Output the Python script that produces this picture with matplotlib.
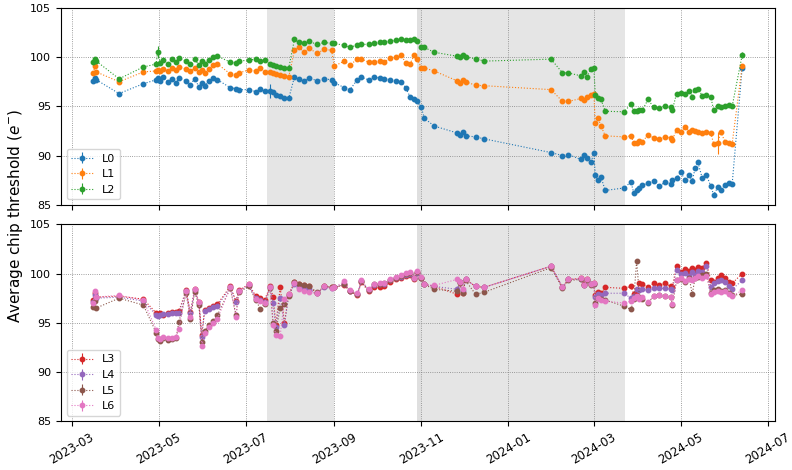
import numpy as np
import pandas as pd
import matplotlib
matplotlib.use("Agg")
import matplotlib.pyplot as plt
import matplotlib.dates as mdates

# measurement dates
dates = ["2023-03-16", "2023-03-17", "2023-03-18", "2023-04-03", "2023-04-20", "2023-04-29",
         "2023-04-30", "2023-05-02", "2023-05-04", "2023-05-07", "2023-05-10", "2023-05-13",
         "2023-05-15", "2023-05-20", "2023-05-23", "2023-05-26", "2023-05-29", "2023-05-31",
         "2023-06-02", "2023-06-05", "2023-06-08", "2023-06-11", "2023-06-20", "2023-06-24",
         "2023-06-26", "2023-07-03", "2023-07-08", "2023-07-11", "2023-07-14", "2023-07-18",
         "2023-07-20", "2023-07-22", "2023-07-25", "2023-07-28", "2023-07-31", "2023-08-04",
         "2023-08-07", "2023-08-11", "2023-08-14", "2023-08-20", "2023-08-25", "2023-08-30",
         "2023-09-01", "2023-09-08", "2023-09-12", "2023-09-17", "2023-09-20", "2023-09-25",
         "2023-09-29", "2023-10-03", "2023-10-06", "2023-10-10", "2023-10-14", "2023-10-18",
         "2023-10-21", "2023-10-24", "2023-10-27", "2023-10-29", "2023-11-01", "2023-11-03",
         "2023-11-10", "2023-11-26", "2023-11-28", "2023-11-30", "2023-12-02", "2023-12-09",
         "2023-12-15", "2024-01-31", "2024-02-08", "2024-02-12", "2024-02-21", "2024-02-23",
         "2024-02-25", "2024-02-28", "2024-03-01", "2024-03-02", "2024-03-04", "2024-03-06",
         "2024-03-09", "2024-03-22", "2024-03-27", "2024-03-29", "2024-03-31", "2024-04-02",
         "2024-04-04", "2024-04-08", "2024-04-12", "2024-04-16", "2024-04-20", "2024-04-24",
         "2024-04-25", "2024-04-28", "2024-05-01", "2024-05-04", "2024-05-07", "2024-05-09",
         "2024-05-11", "2024-05-13", "2024-05-16", "2024-05-19", "2024-05-22", "2024-05-24",
         "2024-05-27", "2024-05-29", "2024-06-01", "2024-06-04", "2024-06-06", "2024-06-13"]

L0 = [97.6, 97.9, 97.7, 96.3, 97.3, 97.7, 97.9, 97.6, 98.0, 97.5, 97.8, 97.4,
      97.9, 97.6, 97.2, 97.8, 97.0, 97.4, 97.1, 97.6, 97.9, 97.7, 96.9, 96.8,
      96.7, 96.7, 96.5, 96.8, 96.6, 96.6, 96.5, 96.2, 96.1, 95.9, 95.8, 98.0,
      97.8, 97.6, 97.9, 97.6, 97.8, 97.7, 97.4, 96.9, 96.7, 97.7, 97.95, 97.7,
      97.95, 97.9, 97.8, 97.7, 97.6, 97.5, 96.9, 96.0, 95.7, 95.5, 94.9, 93.8,
      93.0, 92.3, 92.1, 92.4, 92.0, 91.9, 91.7, 90.3, 90.0, 90.1, 89.6, 90.1,
      89.8, 89.3, 90.3, 88.0, 87.5, 87.8, 86.45, 86.7, 87.3, 86.2, 86.5, 86.7,
      87.0, 87.2, 87.4, 86.9, 87.3, 87.1, 87.5, 87.7, 88.3, 87.5, 88.0, 87.4,
      88.7, 89.3, 87.7, 88.0, 86.9, 86.0, 86.8, 86.5, 87.0, 87.2, 87.1, 98.9]
L1 = [98.4, 99.1, 98.5, 97.5, 98.5, 98.6, 98.7, 98.6, 98.8, 98.6, 98.9, 98.7,
      99.0, 98.8, 98.6, 98.9, 98.5, 98.7, 98.4, 98.8, 99.2, 99.3, 98.3, 98.2,
      98.4, 98.7, 98.6, 98.9, 98.5, 98.5, 98.4, 98.3, 98.2, 98.1, 98.0, 100.7,
      101.0, 100.5, 100.9, 100.4, 100.8, 100.7, 99.1, 99.6, 99.2, 99.8, 99.8, 99.5,
      99.5, 99.6, 99.5, 99.9, 100.0, 100.2, 99.4, 99.3, 100.2, 99.8, 98.95, 98.9,
      98.6, 97.6, 97.4, 97.7, 97.5, 97.15, 97.1, 96.7, 95.5, 95.5, 95.8, 95.6,
      96.0, 96.2, 96.3, 93.3, 93.8, 93.0, 92.0, 91.9, 92.0, 91.3, 91.3, 91.5,
      91.4, 92.1, 91.8, 91.7, 91.9, 91.8, 91.6, 92.6, 92.4, 92.9, 92.4, 92.6,
      92.5, 92.4, 92.3, 92.4, 92.3, 91.2, 91.3, 92.4, 91.4, 91.3, 91.2, 99.1]
L2 = [99.5, 99.8, 99.6, 97.8, 99.0, 99.3, 100.5, 99.4, 99.7, 99.3, 99.8, 99.5,
      99.9, 99.6, 99.3, 99.8, 99.2, 99.6, 99.3, 99.7, 100.0, 100.1, 99.5, 99.4,
      99.6, 99.7, 99.8, 99.6, 99.7, 99.3, 99.2, 99.1, 99.0, 98.9, 98.9, 101.8,
      101.5, 101.4, 101.6, 101.3, 101.5, 101.4, 101.4, 101.2, 101.0, 101.25, 101.3, 101.3,
      101.4, 101.5, 101.5, 101.6, 101.7, 101.8, 101.7, 101.7, 101.8, 101.6, 101.0, 101.0,
      100.5, 100.1, 100.0, 100.2, 100.0, 99.85, 99.6, 99.8, 98.4, 98.4, 98.1, 98.5,
      98.0, 98.8, 98.9, 96.2, 95.8, 95.7, 94.5, 94.45, 95.2, 94.5, 94.5, 94.6,
      94.6, 95.7, 94.9, 94.8, 95.0, 94.9, 94.6, 96.3, 96.4, 96.3, 96.6, 96.0,
      96.7, 96.8, 96.1, 96.2, 96.0, 94.6, 95.0, 94.9, 95.0, 95.1, 95.0, 100.2]
L3 = [97.3, 98.0, 97.6, 97.7, 97.4, 96.0, 95.9, 96.0, 95.8, 96.0, 96.1, 96.1,
      96.2, 98.3, 96.1, 98.4, 97.1, 93.8, 96.3, 96.5, 96.7, 96.9, 98.7, 97.2,
      98.3, 98.9, 97.7, 97.5, 97.3, 98.7, 97.6, 94.8, 98.6, 95.0, 97.9, 99.1,
      98.9, 98.8, 98.7, 98.0, 98.7, 98.6, 98.6, 98.8, 98.2, 97.8, 99.1, 98.2,
      98.6, 98.6, 98.7, 99.1, 99.4, 99.6, 99.8, 99.9, 99.4, 100.1, 99.5, 98.9,
      98.7, 97.9, 99.1, 98.0, 99.4, 98.7, 98.6, 100.75, 98.6, 99.4, 99.5, 98.9,
      99.4, 98.9, 99.0, 97.8, 98.1, 98.0, 98.6, 98.5, 98.7, 97.9, 98.2, 99.0,
      98.9, 98.6, 99.0, 98.8, 99.0, 98.7, 98.6, 100.8, 100.2, 100.5, 100.3, 100.6,
      100.4, 100.7, 100.6, 101.1, 99.3, 99.1, 99.5, 99.9, 99.6, 99.1, 99.0, 100.0]
L4 = [97.1, 97.8, 97.5, 97.6, 97.2, 95.8, 95.7, 95.8, 95.9, 95.9, 96.0, 96.0,
      96.0, 98.2, 96.0, 98.3, 97.0, 93.6, 96.2, 96.4, 96.6, 96.7, 98.6, 97.1,
      98.2, 98.8, 97.5, 97.3, 97.1, 98.6, 97.0, 94.6, 97.5, 94.8, 97.8, 98.9,
      98.6, 98.5, 98.4, 98.0, 98.6, 98.5, 98.6, 98.9, 98.2, 97.9, 99.2, 98.3,
      98.8, 98.9, 98.9, 99.3, 99.5, 99.7, 99.9, 100.0, 99.5, 100.1, 99.6, 98.9,
      98.7, 98.4, 99.1, 98.2, 99.4, 98.7, 98.6, 100.75, 98.6, 99.4, 99.4, 98.8,
      99.3, 98.9, 98.9, 97.6, 97.9, 97.8, 98.0, 98.0, 97.5, 97.7, 98.4, 98.3,
      98.4, 98.3, 98.5, 98.5, 98.5, 98.4, 98.3, 100.4, 100.0, 100.1, 99.8, 100.2,
      99.9, 100.3, 100.2, 100.8, 98.6, 99.0, 99.2, 99.3, 99.1, 98.7, 98.4, 99.3]
L5 = [96.6, 97.2, 96.5, 97.5, 96.8, 94.0, 93.3, 93.1, 93.4, 93.2, 93.3, 93.5,
      95.1, 98.0, 95.4, 98.1, 96.8, 93.0, 94.2, 94.8, 95.2, 95.8, 98.5, 95.8,
      98.1, 98.7, 97.3, 96.4, 96.9, 98.5, 95.0, 94.2, 96.5, 96.9, 97.7, 99.1,
      98.9, 98.8, 98.7, 98.1, 98.7, 98.6, 98.6, 98.9, 98.2, 97.9, 99.2, 98.3,
      98.9, 98.9, 99.0, 99.3, 99.6, 99.8, 100.0, 100.1, 99.5, 100.2, 99.6, 98.9,
      98.4, 98.2, 99.0, 98.0, 99.3, 97.9, 98.1, 100.6, 98.5, 99.3, 99.4, 98.8,
      99.3, 98.8, 98.9, 97.0, 97.5, 97.4, 97.3, 96.7, 96.35, 97.4, 101.3, 97.6,
      97.4, 97.0, 97.7, 97.8, 97.7, 97.6, 96.8, 99.3, 99.4, 99.1, 99.5, 97.9,
      99.6, 99.7, 99.9, 100.0, 98.0, 98.3, 98.4, 98.2, 98.3, 98.0, 97.8, 97.9]
L6 = [97.0, 98.2, 97.6, 97.8, 97.3, 94.3, 93.5, 93.3, 93.6, 93.4, 93.5, 93.6,
      94.4, 98.2, 95.6, 98.4, 97.1, 92.6, 94.0, 94.6, 95.0, 95.4, 98.6, 95.6,
      98.2, 98.9, 97.4, 97.2, 97.0, 98.6, 94.8, 93.8, 93.7, 97.4, 97.9, 99.0,
      98.4, 98.2, 98.1, 98.0, 98.7, 98.5, 98.6, 99.2, 98.3, 98.0, 99.3, 98.4,
      98.9, 99.0, 99.0, 99.4, 99.7, 99.9, 100.1, 100.2, 99.6, 100.3, 99.7, 98.9,
      98.8, 99.4, 99.1, 98.4, 99.4, 98.7, 98.6, 100.75, 98.6, 99.4, 99.5, 98.8,
      99.4, 98.9, 99.0, 96.8, 97.5, 97.3, 97.2, 97.0, 97.2, 97.5, 97.7, 97.4,
      97.6, 97.1, 97.7, 97.8, 97.7, 97.6, 96.9, 99.3, 99.5, 99.2, 99.4, 99.3,
      99.5, 99.8, 99.5, 99.8, 97.9, 98.1, 98.2, 98.1, 98.2, 97.9, 97.7, 98.3]

# a few points with large uncertainty (index, series, error)
big_errors = [(6, "L2", 0.6), (29, "L0", 0.7), (102, "L1", 1.1), (107, "L2", 0.3)]
base_err = 0.12

# (start, end, alpha)
shaded = [("2023-07-16", "2023-09-01", 0.2), ("2023-10-29", "2023-11-01", 0.25),
          ("2023-11-01", "2024-03-23", 0.2)]

x = pd.to_datetime(dates)
series = {"L0": L0, "L1": L1, "L2": L2, "L3": L3, "L4": L4, "L5": L5, "L6": L6}
errs = {k: np.full(len(dates), base_err) for k in series}
for i, k, e in big_errors:
    errs[k][i] = e

fig, (ax1, ax2) = plt.subplots(2, 1, figsize=(7.92, 4.70), dpi=100, sharex=True)
fig.subplots_adjust(left=0.077, right=0.978, top=0.983, bottom=0.104, hspace=0.1)

panels = [(ax1, ["L0", "L1", "L2"], 0), (ax2, ["L3", "L4", "L5", "L6"], 3)]
for ax, names, c0 in panels:
    for a, b, al in shaded:
        ax.axvspan(pd.Timestamp(a), pd.Timestamp(b), color="gray", alpha=al, lw=0)
    for j, name in enumerate(names):
        ax.errorbar(x, series[name], yerr=errs[name], fmt="o:", ms=3.2, lw=0.8,
                    elinewidth=0.8, color="C%d" % (c0 + j), label=name)
    ax.set_ylim(85, 105)
    ax.set_yticks([85, 90, 95, 100, 105])
    ax.grid(True, ls=":", color="gray", lw=0.6)
    ax.tick_params(labelsize=8)
    ax.legend(loc="lower left", fontsize=8)

ax2.xaxis.set_major_locator(mdates.MonthLocator(bymonth=[1, 3, 5, 7, 9, 11]))
ax2.xaxis.set_major_formatter(mdates.DateFormatter("%Y-%m"))
plt.setp(ax2.get_xticklabels(), rotation=30, fontsize=8.5)

fig.text(0.02, 0.54, "Average chip threshold ($e^{-}$)", rotation=90,
         va="center", ha="center", fontsize=11)

fig.savefig("out.png", dpi=100)
